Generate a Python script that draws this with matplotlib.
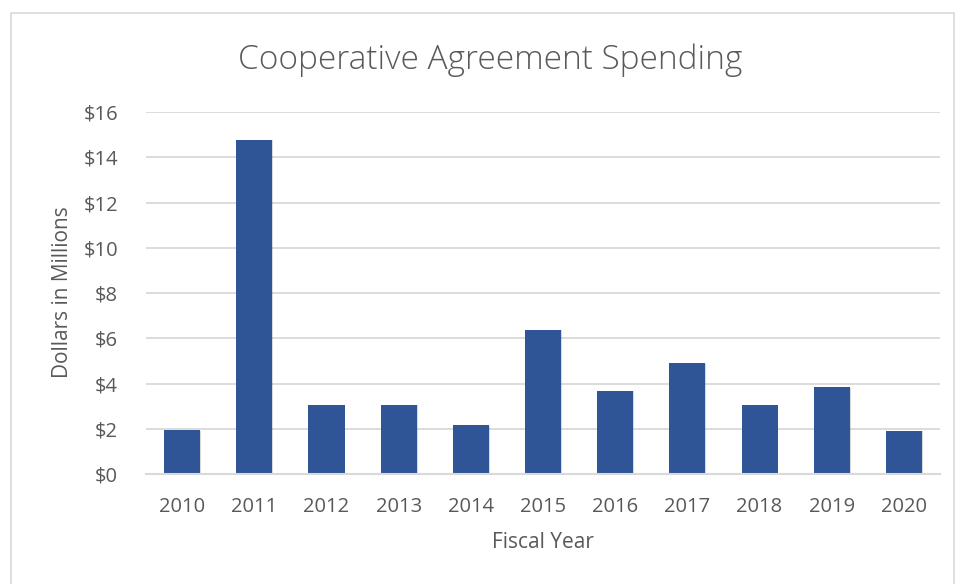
import matplotlib
matplotlib.use("Agg")
import matplotlib.pyplot as plt
from matplotlib.patches import Rectangle
import matplotlib.patheffects as pe

years = ["2010", "2011", "2012", "2013", "2014", "2015", "2016", "2017", "2018", "2019", "2020"]
spending = [1.96, 14.78, 3.05, 3.08, 2.16, 6.39, 3.70, 4.90, 3.08, 3.85, 1.93]
y_ticks = [0, 2, 4, 6, 8, 10, 12, 14, 16]
y_tick_labels = [f"${v}" for v in y_ticks]

W, H = 956, 584
plt.rcParams["font.family"] = ["Open Sans", "DejaVu Sans"]
text_color = "#595959"
grid_color = "#D9D9D9"
bar_color = "#2F5597"

fig = plt.figure(figsize=(W / 100, H / 100), dpi=100)
fig.patch.set_facecolor("white")

# chart outline
fig.patches.append(Rectangle((11 / W, -0.05), (954 - 11) / W, 1.05 - 13 / H,
                             transform=fig.transFigure, fill=False,
                             edgecolor=grid_color, linewidth=1.2))

left, right, top, bottom = 146, 940, 112, 474.3
ax = fig.add_axes([left / W, 1 - bottom / H, (right - left) / W, (bottom - top) / H])

x = list(range(len(years)))
bars = ax.bar(x, spending, width=0.5, color=bar_color, zorder=3)
for b in bars:
    b.set_path_effects([pe.SimplePatchShadow(offset=(0.6, -0.6), shadow_rgbFace="#000000", alpha=0.15),
                        pe.Normal()])

ax.set_xlim(-0.5, len(years) - 0.5)
ax.set_ylim(0, 16)
ax.set_yticks(y_ticks)
ax.set_yticklabels(y_tick_labels)
ax.set_xticks(x)
ax.set_xticklabels(years)
ax.tick_params(axis="both", length=0, colors=text_color, labelsize=14.5)
ax.tick_params(axis="y", pad=20)
ax.tick_params(axis="x", pad=16)

ax.yaxis.grid(True, color=grid_color, linewidth=1.3, zorder=0)
ax.set_axisbelow(True)
for s in ["top", "right", "left"]:
    ax.spines[s].set_visible(False)
ax.spines["bottom"].set_color(grid_color)
ax.spines["bottom"].set_linewidth(1.5)
ax.spines["bottom"].set_zorder(4)

fig.text(490 / W, 1 - 60 / H, "Cooperative Agreement Spending", ha="center", va="center",
         fontsize=24, color=text_color, fontweight="light")
fig.text(543 / W, 1 - 543 / H, "Fiscal Year", ha="center", va="center",
         fontsize=15, color=text_color)
fig.text(62 / W, 1 - 292 / H, "Dollars in Millions", ha="center", va="center",
         rotation=90, fontsize=15, color=text_color)

fig.savefig("out.png", dpi=100, facecolor="white")
